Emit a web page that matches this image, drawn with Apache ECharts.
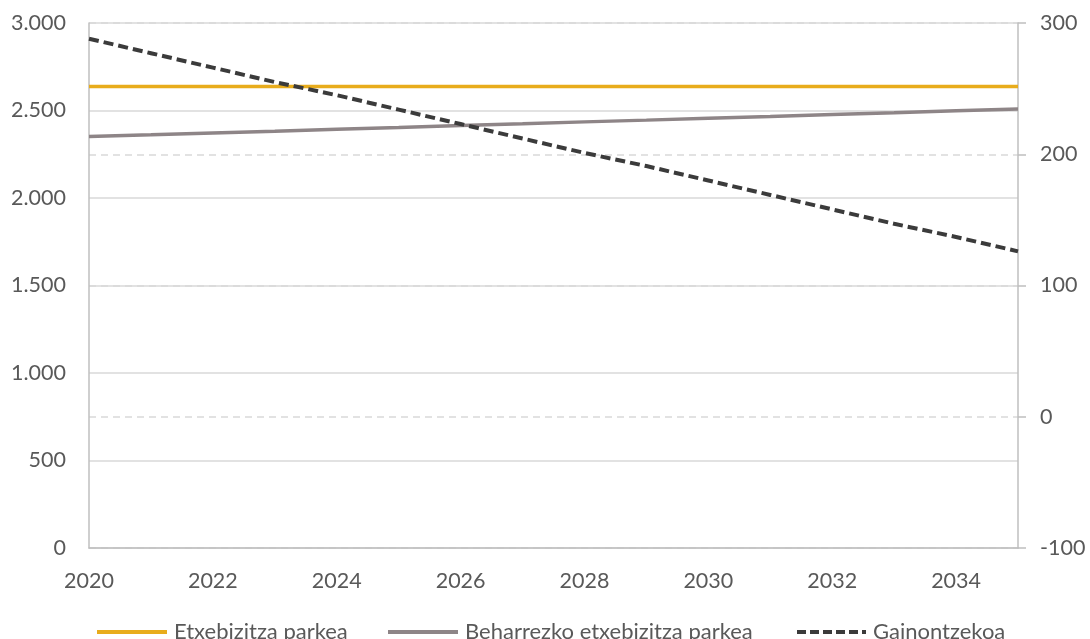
<!DOCTYPE html>
<html>
<head>
<meta charset="utf-8">
<script src="https://cdn.jsdelivr.net/npm/echarts@6/dist/echarts.min.js"></script>
<style>
  html, body { margin: 0; padding: 0; background: #fff; }
  #chart { width: 1090px; height: 639px; }
</style>
</head>
<body>
<div id="chart"></div>
<script>
// urteak
var years = ['2020','2021','2022','2023','2024','2025','2026','2027','2028','2029','2030','2031','2032','2033','2034','2035'];
// ezkerreko ardatza
var parkea = [2637,2637,2637,2637,2637,2637,2637,2637,2637,2637,2637,2637,2637,2637,2637,2637];
var beharrezkoa = [2351,2361,2372,2382,2393,2403,2414,2424,2435,2445,2456,2466,2477,2487,2498,2508];
// eskuineko ardatza
var gainontzekoa = [288,277,266,255,245,234,223,212,201,191,180,169,158,147,137,126];

var font = 'Lato';
var txt = '#595959';
var grey = '#bfbfbf';

function fmt(v) {
  return String(v).replace(/\B(?=(\d{3})+(?!\d))/g, '.');
}

// legendako ikonoak
var solidIcon = 'path://M0,0h70v4h-70z';
var dashIcon = 'path://M0,0h9v4h-9z M13,0h9v4h-9z M26,0h9v4h-9z M39,0h9v4h-9z M52,0h9v4h-9z M65,0h4v4h-4z';

function legendAt(left, name, icon, w) {
  return {
    top: 615,
    left: left,
    itemWidth: w,
    itemHeight: 4,
    textStyle: { fontFamily: font, fontSize: 22, lineHeight: 24, color: txt, padding: [0, 0, 0, 2] },
    data: [{ name: name, icon: icon }]
  };
}

var chart = echarts.init(document.getElementById('chart'));
chart.setOption({
  animation: false,
  textStyle: { fontFamily: font },
  grid: { left: 89, right: 72, top: 23, bottom: 91, containLabel: false },
  legend: [
    legendAt(92, 'Etxebizitza parkea', solidIcon, 70),
    legendAt(383, 'Beharrezko etxebizitza parkea', solidIcon, 70),
    legendAt(792, 'Gainontzekoa', dashIcon, 69)
  ],
  xAxis: {
    type: 'category',
    boundaryGap: false,
    data: years,
    axisLine: { lineStyle: { color: grey, width: 1.5 } },
    axisTick: { show: false },
    axisLabel: { interval: 1, margin: 22, fontSize: 21.5, color: txt, fontFamily: font }
  },
  yAxis: [
    {
      type: 'value',
      min: 0, max: 3000, interval: 500,
      axisLine: { show: true, lineStyle: { color: grey, width: 1.5 } },
      axisTick: { show: false },
      axisLabel: { margin: 23, fontSize: 21.5, color: txt, fontFamily: font, formatter: fmt },
      splitLine: { lineStyle: { color: '#d9d9d9', width: 1.5 } }
    },
    {
      type: 'value',
      min: -100, max: 300, interval: 100,
      axisLine: { show: true, lineStyle: { color: grey, width: 1.5 } },
      axisTick: { show: true, length: 8, lineStyle: { color: grey, width: 1.5 } },
      axisLabel: { margin: 22, fontSize: 21.5, color: txt, fontFamily: font },
      splitLine: { lineStyle: { color: '#d9d9d9', width: 1.5, type: [7, 5] } }
    }
  ],
  series: [
    {
      name: 'Etxebizitza parkea',
      type: 'line',
      yAxisIndex: 0,
      data: parkea,
      symbol: 'none',
      color: '#e8ac1c',
      lineStyle: { width: 3.5, color: '#e8ac1c' }
    },
    {
      name: 'Beharrezko etxebizitza parkea',
      type: 'line',
      yAxisIndex: 0,
      data: beharrezkoa,
      symbol: 'none',
      color: '#8e8587',
      lineStyle: { width: 3.5, color: '#8e8587' }
    },
    {
      name: 'Gainontzekoa',
      type: 'line',
      yAxisIndex: 1,
      data: gainontzekoa,
      symbol: 'none',
      color: '#3b3b3b',
      z: 3,
      lineStyle: { width: 4, color: '#3b3b3b', type: [10, 5] }
    }
  ]
});
window.addEventListener('resize', function () { chart.resize(); });
</script>
</body>
</html>
